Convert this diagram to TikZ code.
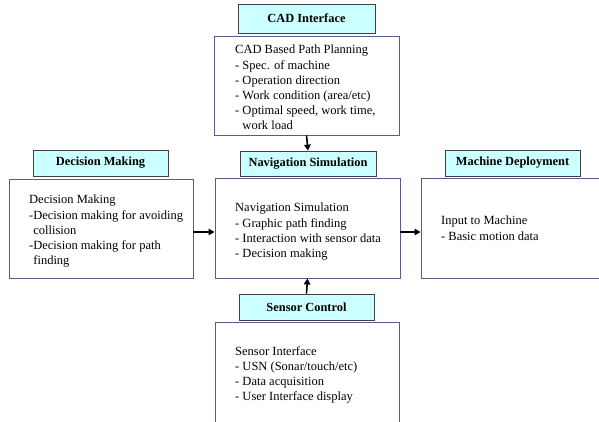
\documentclass[tikz,border=0pt]{standalone}
\usepackage{fontspec}
\setmainfont{Liberation Serif}
\usetikzlibrary{arrows.meta}
\definecolor{lblfill}{HTML}{CCFFFF}
\definecolor{lbldraw}{HTML}{404040}
\definecolor{boxdraw}{HTML}{5A5A8C}
\tikzset{
  lbl/.style={draw=lbldraw, line width=0.8pt, fill=lblfill, inner sep=0pt, font=\fontsize{12.4}{14}\selectfont\bfseries},
  mainbox/.style={draw=boxdraw, line width=0.9pt, fill=white, inner sep=0pt},
  body/.style={anchor=north west, align=left, inner sep=0pt, font=\fontsize{12.5}{15.2}\selectfont},
  conn/.style={-{Triangle[length=6pt,width=6.5pt]}, line width=1.6pt, black}
}
\begin{document}
\begin{tikzpicture}[x=1pt,y=-1pt]
\useasboundingbox (0,0) rectangle (599,421);
\begin{scope}
\clip (0,0) rectangle (599,421);
% CAD
\node[lbl, minimum width=137pt, minimum height=29pt] (cadl) at (306.5,18.5) {CAD Interface};
\node[mainbox, minimum width=185pt, minimum height=99pt] (cad) at (306.5,85.5) {};
\node[body] (cadt) at (235,45) {CAD Based Path Planning\\- Spec. of machine\\- Operation direction\\- Work condition (area/etc)\\- Optimal speed, work time,\\\hphantom{- }work load};
% Decision
\node[lbl, minimum width=135pt, minimum height=26pt] (decl) at (100.5,163) {Decision Making};
\node[mainbox, minimum width=184pt, minimum height=99pt] (dec) at (101,228.5) {};
\node[body] (dect) at (29,195) {Decision Making\\-Decision making for avoiding\\\hphantom{-}collision\\-Decision making for path\\\hphantom{-}finding};
% Navigation
\node[lbl, minimum width=136pt, minimum height=25pt] (navl) at (308,163.5) {Navigation Simulation};
\node[mainbox, minimum width=185pt, minimum height=100pt] (nav) at (307.5,228) {};
\node[body] (navt) at (235,203) {Navigation Simulation\\- Graphic path finding\\- Interaction with sensor data\\- Decision making};
% Machine
\node[lbl, minimum width=135pt, minimum height=26pt] (macl) at (512.5,163) {Machine Deployment};
\node[mainbox, minimum width=190pt, minimum height=100pt] (mac) at (516,228) {};
\node[body] (mact) at (441,216) {Input to Machine\\- Basic motion data};
% Sensor
\node[lbl, minimum width=135pt, minimum height=26pt] (senl) at (306.5,307) {Sensor Control};
\node[mainbox, minimum width=184pt, minimum height=120pt] (sen) at (307,382) {};
\node[body] (sent) at (235,346) {Sensor Interface\\- USN (Sonar/touch/etc)\\- Data acquisition\\- User Interface display};
\end{scope}
% connectors
\draw[conn] (cad.south) -- (navl.north);
\draw[conn] (senl.north) -- (nav.south);
\draw[conn] (dec.east |- 0,232) -- (nav.west |- 0,232);
\draw[conn] (nav.east |- 0,232) -- (mac.west |- 0,232);
\end{tikzpicture}
\end{document}
